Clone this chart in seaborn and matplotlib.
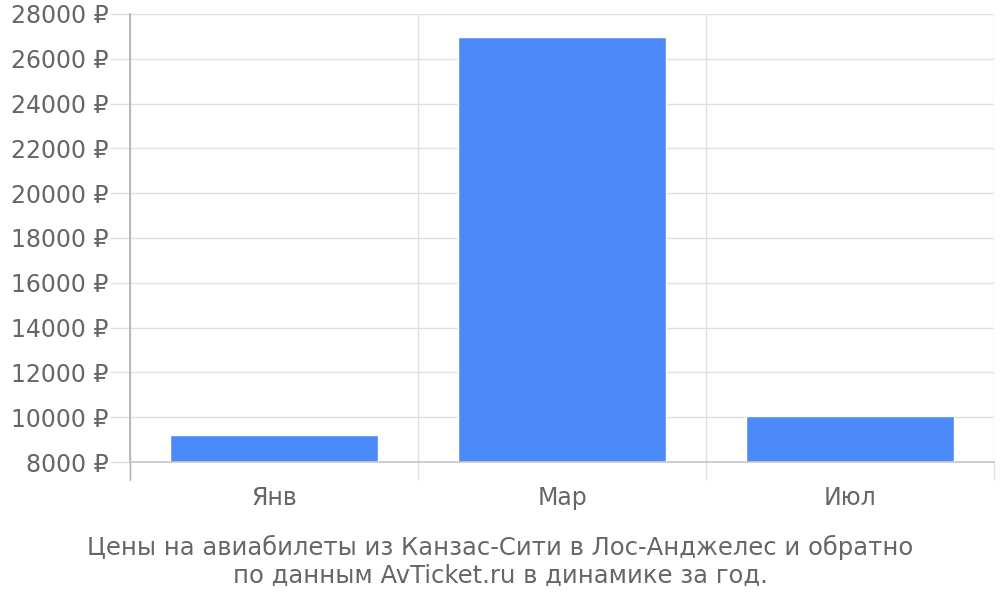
import matplotlib
matplotlib.use("Agg")
import matplotlib.pyplot as plt
import seaborn as sns

months = ["Янв", "Мар", "Июл"]
prices = [9190, 26970, 10070]
y_ticks = list(range(8000, 28001, 2000))
caption = ["Цены на авиабилеты из Канзас-Сити в Лос-Анджелес и обратно",
           "по данным AvTicket.ru в динамике за год."]

sns.set_theme(style="white")
plt.rcParams['font.family'] = ['DejaVu Sans']

text_col = '#666666'
grid_col = '#e0e0e0'

fig = plt.figure(figsize=(10, 6), dpi=100)
ax = fig.add_axes([0.13, 0.23, 0.864, 0.7467])

sns.barplot(x=months, y=prices, color='#4d8af9', saturation=1, width=0.72, ax=ax)

ax.set_xlim(-0.5, 2.5)
ax.set_ylim(8000, 28000)
ax.set_yticks(y_ticks)
ax.set_yticklabels([f"{t} ₽" for t in y_ticks])
ax.set_xticks([-0.5, 0.5, 1.5, 2.5], minor=True)

ax.grid(axis='y', color=grid_col, linewidth=1)
ax.grid(axis='x', which='minor', color=grid_col, linewidth=1)
ax.set_axisbelow(True)

ax.tick_params(axis='y', length=14.5, width=1, color=grid_col, pad=1,
               labelsize=17, labelcolor=text_col, left=True)
ax.tick_params(axis='x', which='major', length=0, pad=17,
               labelsize=17, labelcolor=text_col)
ax.tick_params(axis='x', which='minor', length=13, width=1, color=grid_col,
               direction='out', bottom=True)

for s in ['top', 'right']:
    ax.spines[s].set_visible(False)
ax.spines['left'].set_color('#b0b0b0')
ax.spines['bottom'].set_color('#c8c8c8')
ax.plot([-0.5, -0.5], [0, -0.04], transform=ax.get_xaxis_transform(),
        color='#b0b0b0', linewidth=1, clip_on=False)

ax.set_xlabel('')
ax.set_ylabel('')

fig.text(0.5, 0.088, caption[0], ha='center', va='center', fontsize=17.5, color=text_col)
fig.text(0.5, 0.04, caption[1], ha='center', va='center', fontsize=17.5, color=text_col)

fig.savefig('out.png', dpi=100, facecolor='white')
